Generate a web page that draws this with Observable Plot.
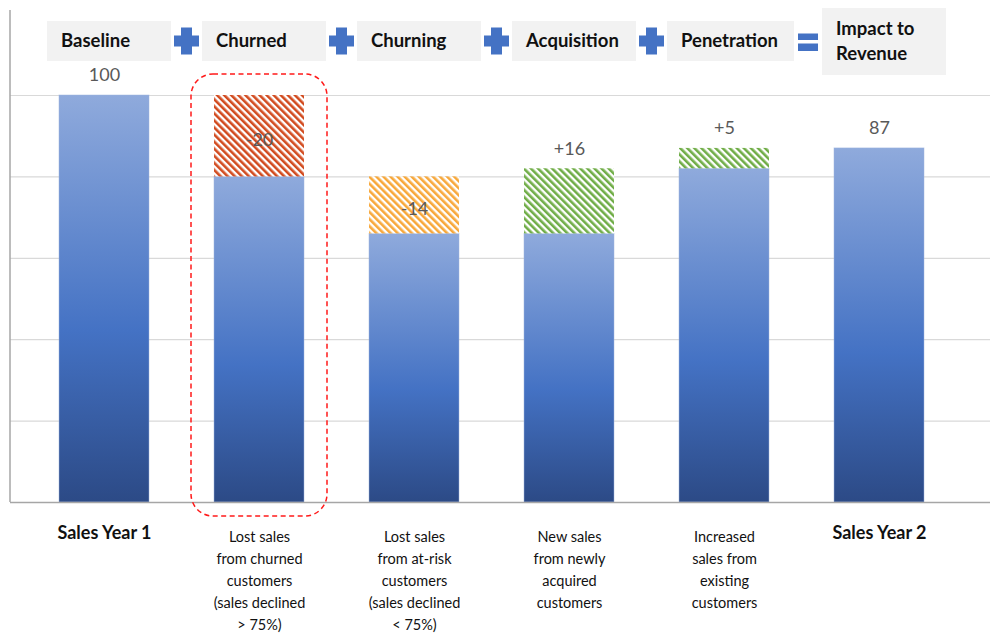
<!DOCTYPE html>
<html>
<head>
<meta charset="utf-8">
<script src="https://cdn.jsdelivr.net/npm/d3@7"></script>
<script src="https://cdn.jsdelivr.net/npm/@observablehq/plot@0.6"></script>
<style>
  html, body { margin: 0; padding: 0; background: #fff; }
  #chart { width: 990px; height: 635px; }
</style>
</head>
<body>
<div id="chart"></div>
<script>
// ---- data ----
const steps = ["Baseline", "Churned", "Churning", "Acquisition", "Penetration", "Impact to\nRevenue"];
const operators = ["+", "+", "+", "+", "="];
const xLabels = [
  "Sales Year 1",
  "Lost sales\nfrom churned\ncustomers\n(sales declined\n> 75%)",
  "Lost sales\nfrom at-risk\ncustomers\n(sales declined\n< 75%)",
  "New sales\nfrom newly\nacquired\ncustomers",
  "Increased\nsales from\nexisting\ncustomers",
  "Sales Year 2"
];
const values = [100, -20, -14, 16, 5, 87];
const valueLabels = ["100", "-20", "-14", "+16", "+5", "87"];
const isTotal = [true, false, false, false, false, true];
const gridTicks = [20, 40, 60, 80, 100];

// ---- styles ----
const hatchOf = {Churned: "hatchRed", Churning: "hatchOrange", Acquisition: "hatchGreen", Penetration: "hatchGreen"};

// ---- derived waterfall rows ----
let running = 0;
const rows = steps.map((step, i) => {
  const v = values[i];
  let base, lo, hi;
  if (isTotal[i]) { base = v; lo = v; hi = v; running = v; }
  else {
    const start = running, end = running + v;
    lo = Math.min(start, end); hi = Math.max(start, end); base = lo; running = end;
  }
  return {step, xLabel: xLabels[i], value: v, label: valueLabels[i], total: isTotal[i], base, lo, hi,
          neg: v < 0 && !isTotal[i], hatch: isTotal[i] ? null : `url(#${hatchOf[step]})`};
});
const deltas = rows.filter(d => !d.total);
const boldLabels = rows.filter(d => d.total);
const regLabels = rows.filter(d => !d.total);

const font = "Lato, 'Open Sans', sans-serif";

const chart = Plot.plot({
  width: 990,
  height: 635,
  marginTop: 10,
  marginLeft: 10,
  marginRight: 0,
  marginBottom: 133,
  style: {fontFamily: font, background: "#fff", overflow: "visible"},
  x: {domain: steps, range: [25, 957], paddingInner: 0.42, paddingOuter: 0.21, axis: null},
  y: {domain: [0, 100], range: [502, 95], axis: null},
  color: {type: "identity"},
  marks: [
    Plot.gridY(gridTicks, {stroke: "#d9d9d9", strokeOpacity: 1, strokeWidth: 1.2}),
    Plot.barY(rows, {x: "step", y1: 0, y2: "base", fill: "url(#blueGrad)", stroke: "#9fb6e0", strokeOpacity: 0.6, strokeWidth: 0.8}),
    Plot.barY(deltas, {x: "step", y1: "lo", y2: "hi", fill: "hatch"}),
    Plot.ruleY([0], {stroke: "#a6a6a6", strokeWidth: 1.5}),
    // value labels above bars (totals and increases)
    Plot.text(rows.filter(d => !d.neg), {x: "step", y: "hi", text: "label", dy: -20, fill: "#595959", fontSize: 18, lineAnchor: "middle"}),
    // value labels inside decreases
    Plot.text(rows.filter(d => d.neg), {x: "step", y: d => (d.lo + d.hi) / 2, text: "label", dy: 4, fill: "#595959", fontSize: 18, lineAnchor: "middle"}),
    // category labels
    Plot.text(boldLabels, {x: "step", text: "xLabel", frameAnchor: "bottom", lineAnchor: "top", dy: 24, fontSize: 18, fontWeight: "bold", fill: "#111"}),
    Plot.text(regLabels, {x: "step", text: "xLabel", frameAnchor: "bottom", lineAnchor: "top", dy: 24, fontSize: 14.5, lineHeight: 1.52, fill: "#111"})
  ]
});

document.getElementById("chart").appendChild(chart);

// ---- defs: gradient + hatch patterns ----
const svg = d3.select(chart);
const defs = svg.insert("defs", ":first-child");
const g = defs.append("linearGradient").attr("id", "blueGrad").attr("x1", 0).attr("y1", 0).attr("x2", 0).attr("y2", 1);
g.append("stop").attr("offset", "0%").attr("stop-color", "#8faadc");
g.append("stop").attr("offset", "58%").attr("stop-color", "#4472c4");
g.append("stop").attr("offset", "100%").attr("stop-color", "#2c4a86");
function hatch(id, color) {
  const p = defs.append("pattern").attr("id", id).attr("patternUnits", "userSpaceOnUse")
    .attr("width", 5).attr("height", 5).attr("patternTransform", "rotate(-45)");
  p.append("rect").attr("width", 5).attr("height", 5).attr("fill", "#fff");
  p.append("rect").attr("width", 2.6).attr("height", 5).attr("fill", color);
}
hatch("hatchRed", "#d24b1f");
hatch("hatchOrange", "#f8a83a");
hatch("hatchGreen", "#70ad47");

const xs = chart.scale("x");
const ys = chart.scale("y");
const bw = xs.bandwidth;
const cx = s => xs.apply(s) + bw / 2;

// left axis line
svg.append("line").attr("x1", 10).attr("x2", 10).attr("y1", 10).attr("y2", ys.apply(0))
  .attr("stroke", "#a6a6a6").attr("stroke-width", 1.5);

// dashed highlight around "Churned"
svg.append("rect")
  .attr("x", cx("Churned") - 68).attr("width", 136)
  .attr("y", ys.apply(100) - 21).attr("height", ys.apply(0) + 14 - (ys.apply(100) - 21))
  .attr("rx", 22).attr("ry", 22)
  .attr("fill", "none").attr("stroke", "#ff1a1a").attr("stroke-width", 1.5).attr("stroke-dasharray", "5,3.5");

// header boxes
const header = svg.append("g").attr("font-family", font).attr("font-weight", "bold").attr("font-size", 18.5).attr("text-anchor", "start");
const boxes = [];
steps.forEach((s, i) => {
  const grp = header.append("g");
  const rect = grp.append("rect").attr("fill", "#f2f2f2");
  const lines = s.split("\n");
  const lh = 25;
  const cy = 41;
  const t = grp.append("text").attr("fill", "#111").attr("text-anchor", "start");
  lines.forEach((ln, j) => {
    t.append("tspan").attr("x", 0).attr("y", cy + (j - (lines.length - 1) / 2) * lh).attr("dy", "0.35em").text(ln);
  });
  const bb = t.node().getBBox();
  const w = Math.max(bb.width + 30, 124);
  const h = lines.length > 1 ? 67 : 40;
  const left = cx(s) - 57;
  t.selectAll("tspan").attr("x", left + 14);
  rect.attr("x", left).attr("width", w).attr("y", cy - h / 2 + (lines.length > 1 ? 0.5 : 0)).attr("height", h);
  boxes.push({left, right: left + w});
});

// operators
operators.forEach((op, i) => {
  const mx = (boxes[i].right + boxes[i + 1].left) / 2;
  const cy = 41;
  const og = svg.append("g").attr("fill", "#4472c4");
  if (op === "+") {
    og.append("rect").attr("x", mx - 12.5).attr("y", cy - 5.5).attr("width", 25).attr("height", 11);
    og.append("rect").attr("x", mx - 5.5).attr("y", cy - 13.5).attr("width", 11).attr("height", 27);
  } else {
    og.append("rect").attr("x", mx - 10).attr("y", cy - 7.5).attr("width", 20).attr("height", 6.5);
    og.append("rect").attr("x", mx - 10).attr("y", cy + 2.5).attr("width", 20).attr("height", 7.5);
  }
});
</script>
</body>
</html>
